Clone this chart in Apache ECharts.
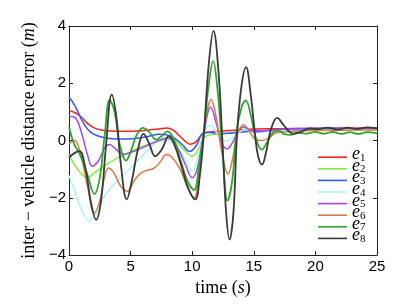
<!DOCTYPE html>
<html>
<head>
<meta charset="utf-8">
<script src="https://cdn.jsdelivr.net/npm/echarts@6/dist/echarts.min.js"></script>
<style>html,body{margin:0;padding:0;background:#fff}#c{width:409px;height:307px}</style>
</head>
<body>
<div id="c"></div>
<script>
const xTicks = [0, 5, 10, 15, 20, 25];
const yTicks = [-4, -2, 0, 2, 4];
const names = ['e1','e2','e3','e4','e5','e6','e7','e8'];
const colors = ['#ff2020','#7df03c','#3656ff','#a6f6f6','#a646ee','#d97a4c','#2ea62e','#3a3a3a'];

const e1 = [[0,1.05],[0.5,0.97],[1.0,0.82],[1.5,0.6],[2.0,0.45],[2.7,0.36],[3.5,0.33],[4.5,0.32],[5.5,0.33],[6.5,0.37],[7.3,0.4],[7.9,0.44],[8.4,0.38],[9.0,0.15],[9.5,-0.05],[9.85,-0.13],[10.3,-0.05],[10.95,0.27],[11.5,0.3],[12.5,0.33],[13.5,0.36],[15,0.4],[17,0.41],[20,0.42],[25,0.43]];
const e2 = [[0,-0.5],[0.6,-0.95],[1.2,-1.25],[1.5,-1.3],[2.0,-1.15],[3.0,-0.85],[4.0,-0.6],[5.0,-0.4],[6.0,-0.2],[7.0,-0.05],[8.0,0.1],[8.6,0.0],[9.3,-0.3],[10.0,-0.55],[10.5,-0.3],[10.95,0.1],[11.5,0.2],[12.5,0.24],[13.5,0.28],[15,0.32],[17,0.36],[19,0.38],[21,0.38],[25,0.38]];
const e3 = [[0,1.52],[0.5,1.2],[1.0,0.75],[1.5,0.4],[2.0,0.22],[2.7,0.12],[3.5,0.06],[4.5,0.05],[5.5,0.08],[6.5,0.15],[7.3,0.22],[7.9,0.2],[8.5,0.1],[9.2,-0.15],[9.8,-0.38],[10.3,-0.2],[10.95,0.27],[11.5,0.28],[12.2,0.24],[13,0.25],[14,0.3],[15,0.33],[16,0.35],[18,0.38],[20,0.4],[25,0.4]];
const e4 = [[0,-1.22],[0.5,-1.8],[1.0,-2.4],[1.65,-2.8],[2.2,-2.55],[2.8,-2.0],[3.5,-1.6],[4.2,-1.3],[5.0,-0.95],[5.8,-0.6],[6.6,-0.25],[7.3,-0.02],[7.9,0.0],[8.5,-0.15],[9.2,-0.5],[9.7,-0.9],[10.0,-1.07],[10.45,-0.6],[10.95,0.27],[11.5,0.53],[11.95,0.3],[12.4,0.05],[12.8,-0.02],[13.3,0.1],[13.8,0.28],[14.3,0.38],[15,0.3],[16,0.32],[18,0.35],[20,0.36],[25,0.38]];
const e5 = [[0,0.85],[0.5,0.8],[1.0,0.3],[1.5,-0.5],[1.9,-0.9],[2.4,-0.7],[2.9,-0.25],[3.3,-0.14],[3.8,-0.3],[4.4,-0.48],[5.0,-0.42],[5.7,-0.3],[6.5,-0.15],[7.3,0.0],[8.0,0.08],[8.5,-0.05],[9.0,-0.4],[9.5,-0.9],[10.0,-1.3],[10.4,-1.0],[10.95,0.27],[11.5,1.16],[11.95,0.6],[12.4,-0.1],[12.85,-0.29],[13.3,-0.05],[13.7,0.3],[14.17,0.47],[14.7,0.35],[15.3,0.3],[16.2,0.35],[17.5,0.4],[19,0.42],[21,0.44],[23,0.43],[25,0.44]];
const e6 = [[0,-0.12],[0.45,0.0],[0.9,-0.4],[1.5,-1.6],[2.05,-2.53],[2.5,-2.1],[2.9,-1.25],[3.2,-0.96],[3.6,-1.1],[4.2,-1.6],[4.75,-1.77],[5.3,-1.4],[5.8,-1.15],[6.25,-1.05],[6.9,-0.97],[7.4,-0.75],[7.9,-0.49],[8.4,-0.6],[9.0,-1.0],[9.6,-1.6],[10.15,-2.0],[10.55,-1.2],[10.95,0.27],[11.54,1.43],[11.95,0.8],[12.4,-0.4],[12.9,-1.17],[13.25,-0.7],[13.65,0.2],[14.17,0.55],[14.6,0.35],[15.1,0.05],[15.7,0.0],[16.3,0.12],[16.9,0.28],[17.5,0.3],[18.5,0.33],[20,0.35],[22,0.36],[25,0.37]];
const e7 = [[0,0.47],[0.4,-0.1],[0.9,-0.5],[1.5,-1.2],[2.06,-1.87],[2.5,-1.3],[2.9,0.2],[3.3,1.42],[3.7,1.0],[4.1,-0.1],[4.63,-0.7],[5.0,-0.4],[5.5,0.2],[6.0,0.44],[6.5,0.3],[7.07,0.03],[7.5,0.15],[8.0,0.32],[8.5,0.05],[9.0,-0.6],[9.6,-1.4],[10.15,-1.73],[10.55,-0.9],[10.95,0.27],[11.3,1.8],[11.7,2.77],[12.05,1.8],[12.45,-0.3],[12.87,-2.1],[13.25,-1.4],[13.6,0.3],[14.0,1.15],[14.35,1.4],[14.75,0.9],[15.15,0.1],[15.65,-0.32],[16.1,-0.05],[16.6,0.3],[17.0,0.35],[17.5,0.22],[18,0.2],[18.6,0.28],[19.3,0.24],[20,0.3],[20.7,0.24],[21.4,0.3],[22.1,0.23],[22.8,0.29],[23.5,0.23],[24.2,0.29],[25,0.25]];
const e8 = [[0,-0.6],[0.4,-0.45],[0.85,-0.37],[1.3,-0.9],[1.8,-2.2],[2.2,-2.77],[2.6,-2.1],[3.0,-0.2],[3.47,1.6],[3.85,0.8],[4.2,-0.8],[4.69,-2.06],[5.1,-1.4],[5.6,-0.3],[6.05,0.23],[6.5,-0.1],[7.0,-0.55],[7.55,-0.3],[8.1,0.15],[8.6,-0.2],[9.2,-1.0],[9.7,-1.7],[10.25,-2.06],[10.6,-1.3],[10.95,0.27],[11.35,2.7],[11.73,3.83],[12.1,2.6],[12.45,0.0],[12.75,-2.5],[13.03,-3.46],[13.35,-2.5],[13.65,0.3],[14.0,1.9],[14.37,2.56],[14.75,1.6],[15.1,0.2],[15.35,-0.55],[15.67,-0.84],[16.0,-0.4],[16.4,0.4],[16.9,0.79],[17.4,0.55],[17.9,0.3],[18.3,0.24],[18.8,0.3],[19.5,0.42],[20.2,0.4],[21,0.45],[21.8,0.38],[22.6,0.45],[23.4,0.4],[24.2,0.46],[25,0.42]];
const seriesData = [e1, e2, e3, e4, e5, e6, e7, e8];

const axisColor = '#222';
const tickFont = {color: '#000', fontFamily: 'Liberation Sans', fontSize: 15};
const serif = 'Liberation Serif';

const chart = echarts.init(document.getElementById('c'), null, {renderer: 'canvas'});
chart.setOption({
  animation: false,
  backgroundColor: '#fff',
  grid: {left: 69, right: 32, top: 26, bottom: 52},
  legend: {
    orient: 'vertical',
    left: 318, top: 145.5, height: 150,
    itemGap: -6.4,
    itemWidth: 29, itemHeight: 1.6,
    icon: 'rect',
    padding: 0,
    data: names,
    formatter: n => '{e|e}{s|' + n.slice(1) + '}',
    textStyle: {
      color: '#000', lineHeight: 12.6, fontSize: 12,
      rich: {
        e: {fontFamily: serif, fontStyle: 'italic', fontSize: 18, lineHeight: 12.6, verticalAlign: 'bottom'},
        s: {fontFamily: serif, fontSize: 11, lineHeight: 12.6, verticalAlign: 'bottom'}
      }
    }
  },
  xAxis: [{
    type: 'value', min: 0, max: 25, interval: 5,
    name: 'time ({i|s})', nameLocation: 'middle', nameGap: 23,
    nameTextStyle: {fontFamily: serif, fontSize: 18, color: '#000', rich: {i: {fontFamily: serif, fontStyle: 'italic', fontSize: 18}}},
    axisLine: {onZero: false, lineStyle: {color: axisColor, width: 1}},
    axisTick: {inside: true, length: 4, lineStyle: {color: axisColor}},
    axisLabel: Object.assign({margin: 4, formatter: v => xTicks.includes(v) ? String(v) : ''}, tickFont),
    splitLine: {show: false}
  }, {
    type: 'value', min: 0, max: 25, interval: 5, position: 'top',
    axisLine: {show: true, onZero: false, lineStyle: {color: axisColor, width: 1}},
    axisTick: {show: true, inside: true, length: 4, lineStyle: {color: axisColor}},
    axisLabel: {show: false}, splitLine: {show: false}
  }],
  yAxis: [{
    type: 'value', min: -4, max: 4, interval: 2,
    name: 'inter \u2212 vehicle distance error ({i|m})', nameLocation: 'middle', nameGap: 28, nameRotate: 90,
    nameTextStyle: {fontFamily: serif, fontSize: 18, color: '#000', rich: {i: {fontFamily: serif, fontStyle: 'italic', fontSize: 18}}},
    axisLine: {show: true, onZero: false, lineStyle: {color: axisColor, width: 1}},
    axisTick: {show: true, inside: true, length: 4, lineStyle: {color: axisColor}},
    axisLabel: Object.assign({margin: 3, formatter: v => yTicks.includes(v) ? (v < 0 ? '\u2212' + Math.abs(v) : String(v)) : ''}, tickFont),
    splitLine: {show: false}
  }, {
    type: 'value', min: -4, max: 4, interval: 2, position: 'right',
    axisLine: {show: true, onZero: false, lineStyle: {color: axisColor, width: 1}},
    axisTick: {show: true, inside: true, length: 4, lineStyle: {color: axisColor}},
    axisLabel: {show: false}, splitLine: {show: false}
  }],
  series: seriesData.map((d, i) => ({
    name: names[i], type: 'line', data: d, xAxisIndex: 0, yAxisIndex: 0,
    smooth: 0.4, showSymbol: false, symbol: 'none',
    lineStyle: {color: colors[i], width: i >= 6 ? 1.8 : 1.5},
    itemStyle: {color: colors[i]},
    z: 2 + i
  }))
});
</script>
</body>
</html>
